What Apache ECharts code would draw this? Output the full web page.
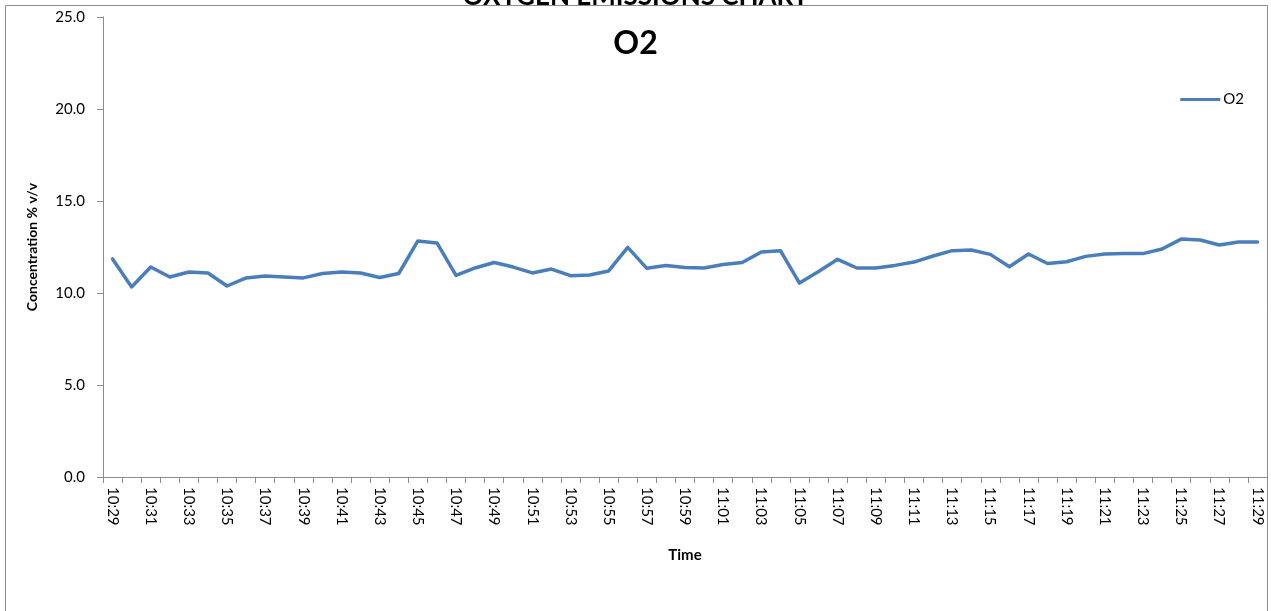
<!DOCTYPE html>
<html>
<head>
<meta charset="utf-8">
<title>Oxygen Emissions Chart</title>
<script src="https://cdn.jsdelivr.net/npm/echarts@6/dist/echarts.min.js"></script>
<style>
  html, body { margin: 0; padding: 0; background: #fff; }
  #chart { width: 1271px; height: 611px; }
</style>
</head>
<body>
<div id="chart"></div>
<script>
// Sample times, one reading per minute
const times = [
  '10:29','10:30','10:31','10:32','10:33','10:34','10:35','10:36','10:37','10:38',
  '10:39','10:40','10:41','10:42','10:43','10:44','10:45','10:46','10:47','10:48',
  '10:49','10:50','10:51','10:52','10:53','10:54','10:55','10:56','10:57','10:58',
  '10:59','11:00','11:01','11:02','11:03','11:04','11:05','11:06','11:07','11:08',
  '11:09','11:10','11:11','11:12','11:13','11:14','11:15','11:16','11:17','11:18',
  '11:19','11:20','11:21','11:22','11:23','11:24','11:25','11:26','11:27','11:28',
  '11:29'
];

// O2 concentration, % v/v
const o2 = [
  11.85, 10.33, 11.41, 10.87, 11.14, 11.09, 10.38, 10.82, 10.92, 10.87,
  10.82, 11.06, 11.14, 11.09, 10.84, 11.06, 12.83, 12.72, 10.96, 11.36,
  11.66, 11.41, 11.09, 11.30, 10.94, 10.98, 11.20, 12.48, 11.34, 11.50,
  11.38, 11.36, 11.55, 11.66, 12.23, 12.30, 10.54, 11.17, 11.83, 11.36,
  11.36, 11.50, 11.68, 12.01, 12.30, 12.34, 12.10, 11.43, 12.12, 11.60,
  11.70, 11.99, 12.12, 12.14, 12.14, 12.39, 12.93, 12.88, 12.61, 12.77,
  12.77
];

// Value axis ticks
const yTicks = [0, 5, 10, 15, 20, 25];

const font = 'Lato, "Open Sans", sans-serif';
const chart = echarts.init(document.getElementById('chart'), null, { renderer: 'canvas' });

chart.setOption({
  animation: false,
  backgroundColor: '#ffffff',
  textStyle: { fontFamily: font, color: '#000' },
  graphic: [{
    type: 'rect',
    shape: { x: 5.5, y: 5.5, width: 1262, height: 700 },
    style: { fill: 'none', stroke: '#8c8c8c', lineWidth: 1 },
    z: -1
  }],
  title: [{
    text: 'OXYGEN EMISSIONS CHART',
    left: 'center',
    top: -16,
    padding: 0,
    textStyle: { fontFamily: font, fontSize: 26, fontWeight: 'bold', color: '#000' }
  }, {
    text: 'O2',
    left: 'center',
    top: 28,
    padding: 0,
    textStyle: { fontFamily: font, fontSize: 32, fontWeight: 'bold', color: '#000' }
  }],
  legend: {
    right: 22,
    top: 87,
    itemWidth: 40,
    itemHeight: 3,
    itemGap: 4,
    icon: 'rect',
    textStyle: { fontFamily: font, fontSize: 15, color: '#000', padding: [0, 0, 0, -2] },
    data: [{ name: 'O2', icon: 'rect' }]
  },
  grid: { left: 103, right: 4, top: 17, bottom: 134, containLabel: false },
  xAxis: {
    type: 'category',
    data: times,
    boundaryGap: true,
    name: 'Time',
    nameLocation: 'middle',
    nameGap: 71,
    nameTextStyle: { fontFamily: font, fontSize: 15, fontWeight: 'bold', color: '#000' },
    axisLine: { lineStyle: { color: '#8c8c8c', width: 1 } },
    axisTick: { show: true, interval: 0, length: 6, lineStyle: { color: '#8c8c8c' } },
    axisLabel: {
      interval: 1,
      rotate: -90,
      margin: 10,
      fontFamily: font,
      fontSize: 15,
      color: '#000'
    },
    splitLine: { show: false }
  },
  yAxis: {
    type: 'value',
    min: yTicks[0],
    max: yTicks[yTicks.length - 1],
    interval: 5,
    name: 'Concentration % v/v',
    nameLocation: 'middle',
    nameGap: 64,
    nameRotate: 90,
    nameTextStyle: { fontFamily: font, fontSize: 14, fontWeight: 'bold', color: '#000' },
    axisLine: { show: true, lineStyle: { color: '#8c8c8c', width: 1 } },
    axisTick: { show: true, length: 6, lineStyle: { color: '#8c8c8c' } },
    axisLabel: {
      margin: 18,
      fontFamily: font,
      fontSize: 15,
      color: '#000',
      formatter: v => v.toFixed(1)
    },
    splitLine: { show: false }
  },
  series: [{
    name: 'O2',
    type: 'line',
    data: o2,
    symbol: 'none',
    smooth: false,
    lineStyle: { color: '#4a7ebb', width: 3.5, join: 'round', cap: 'round' },
    itemStyle: { color: '#4a7ebb' }
  }]
});
</script>
</body>
</html>
